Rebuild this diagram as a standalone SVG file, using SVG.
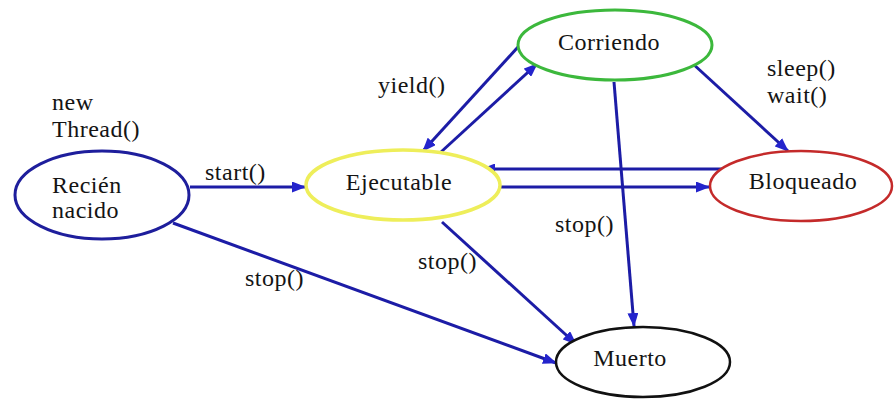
<svg xmlns="http://www.w3.org/2000/svg" width="895" height="400" viewBox="0 0 895 400">
  <style>
    .state { fill: #ffffff; }
    .lbl { font-family: "Liberation Serif", "Times New Roman", serif; font-size: 24px; letter-spacing: 0.5px; fill: #141414; }
    .mid { text-anchor: middle; }
    .edge { stroke: #1c1ca6; stroke-width: 3; fill: none; marker-end: url(#tip); }
  </style>
  <defs>
    <marker id="tip" markerUnits="userSpaceOnUse" markerWidth="14" markerHeight="11" refX="13" refY="5.5" orient="auto">
      <path d="M0,0 L14,5.5 L0,11 z" fill="#2424cc"/>
    </marker>
  </defs>
  <rect width="895" height="400" fill="#ffffff"/>

  <!-- transitions -->
  <g id="connectors">
    <line class="edge" x1="190" y1="187" x2="305" y2="187"/>
    <line class="edge" x1="518" y1="47" x2="423" y2="151"/>
    <line class="edge" x1="441" y1="152" x2="537" y2="64"/>
    <line class="edge" x1="730" y1="169" x2="482" y2="169"/>
    <line class="edge" x1="500" y1="187" x2="709" y2="187"/>
    <line class="edge" x1="692" y1="63" x2="788" y2="151"/>
    <line class="edge" x1="614" y1="82" x2="634" y2="326"/>
    <line class="edge" x1="442" y1="222" x2="576" y2="344"/>
    <line class="edge" x1="173" y1="223" x2="556" y2="363"/>
  </g>

  <!-- transition labels -->
  <g id="labels">
    <text class="lbl" x="52" y="110">new</text>
    <text class="lbl" x="52" y="137">Thread()</text>
    <text class="lbl" x="205" y="180">start()</text>
    <text class="lbl" x="378" y="93">yield()</text>
    <text class="lbl" x="767" y="76">sleep()</text>
    <text class="lbl" x="767" y="103">wait()</text>
    <text class="lbl" x="555" y="232">stop()</text>
    <text class="lbl" x="418" y="269">stop()</text>
    <text class="lbl" x="245" y="286">stop()</text>
  </g>

  <g id="recien-nacido">
    <ellipse class="state" cx="102" cy="195" rx="87" ry="44" stroke="#1e1e9c" stroke-width="3"/>
    <text class="lbl" x="52" y="193">Recién</text>
    <text class="lbl" x="52" y="218">nacido</text>
  </g>

  <g id="ejecutable">
    <ellipse class="state" cx="403" cy="185" rx="97" ry="35" stroke="#eeee5a" stroke-width="3.5"/>
    <text class="lbl mid" x="399" y="190">Ejecutable</text>
  </g>

  <g id="corriendo">
    <ellipse class="state" cx="615" cy="45" rx="97" ry="35" stroke="#3cb83c" stroke-width="3"/>
    <text class="lbl mid" x="609" y="50">Corriendo</text>
  </g>

  <g id="bloqueado">
    <ellipse class="state" cx="801" cy="186" rx="91" ry="35" stroke="#c42a2a" stroke-width="2.5"/>
    <text class="lbl mid" x="803" y="189">Bloqueado</text>
  </g>

  <g id="muerto">
    <ellipse class="state" cx="643" cy="362" rx="87" ry="35" stroke="#111111" stroke-width="2.5"/>
    <text class="lbl mid" x="630" y="366">Muerto</text>
  </g>
</svg>
